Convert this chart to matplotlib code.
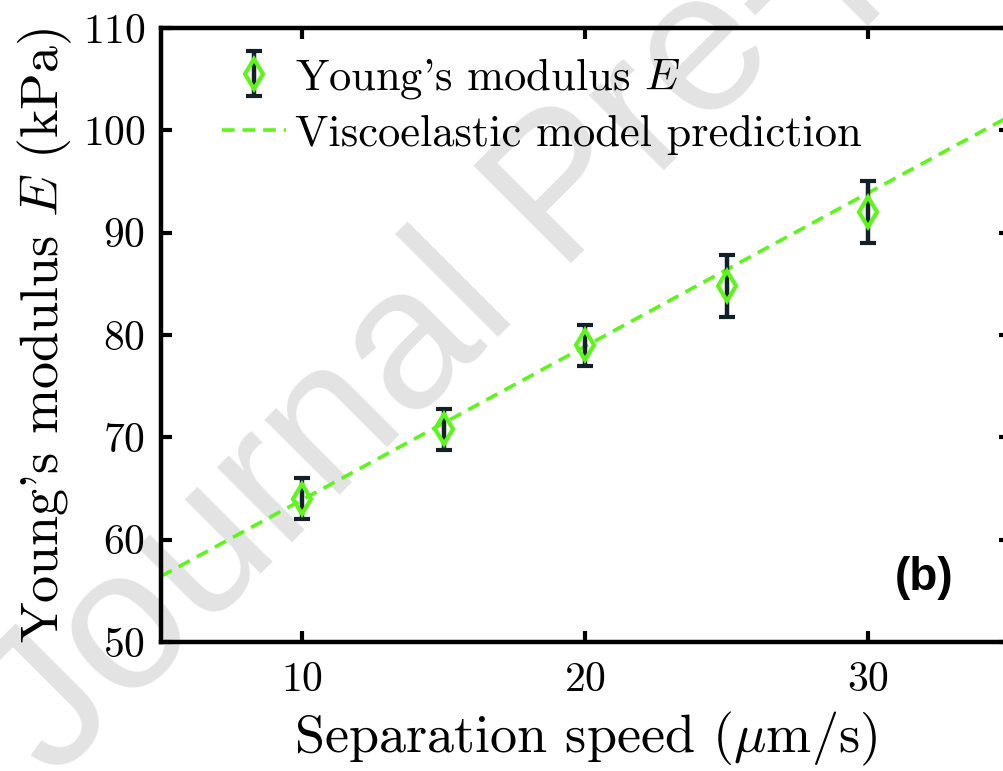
import numpy as np
import matplotlib
matplotlib.use('Agg')
import matplotlib.pyplot as plt

plt.rcParams['font.family'] = 'serif'
plt.rcParams['font.serif'] = ['cmr10']
plt.rcParams['mathtext.fontset'] = 'cm'
plt.rcParams['axes.formatter.use_mathtext'] = True
plt.rcParams['axes.unicode_minus'] = False

# measured data
speed = [10, 15, 20, 25, 30]
modulus = [64.0, 70.8, 79.0, 84.8, 92.0]
modulus_err = [2.0, 2.0, 2.0, 3.0, 3.0]

# model prediction (straight line across the plotted range)
model_speed = [5, 35]
model_E = [56.4, 101.4]

green = '#5ef51a'
dark = '#13202a'

fig = plt.figure(figsize=(10.04, 7.71), dpi=100)
# right spine sits just outside the picture, like in the original
ax = fig.add_axes([0.160, 0.1673, 0.846, 0.7964])
ax.set_facecolor('none')

# watermark
fig.text(0.565, 0.748, 'Journal Pre-proof', fontsize=145, color='#e3e3e3',
         family='Liberation Sans', rotation=45, ha='center', va='center',
         zorder=-5)

ax.plot(model_speed, model_E, '--', color=green, lw=2.6, dashes=(3.5, 2.2),
        label='Viscoelastic model prediction', zorder=2)
ax.errorbar(speed, modulus, yerr=modulus_err, fmt='d', color=dark,
            ecolor=dark, elinewidth=3.2, capsize=5.5, capthick=3.2,
            mfc='none', mec=green, mew=3, ms=15,
            label="Young's modulus $E$", zorder=3)

ax.set_xlim(5, 35)
ax.set_ylim(50, 110)
ax.set_xticks([10, 20, 30])
ax.set_yticks(np.arange(50, 111, 10))
ax.tick_params(direction='in', length=8, width=3, labelsize=30,
               top=True, right=True)
ax.tick_params(axis='x', pad=14)
ax.tick_params(axis='y', pad=11)
for s in ax.spines.values():
    s.set_linewidth(3.2)

ax.set_xlabel(r'Separation speed ($\mu$m/s)', fontsize=39, labelpad=8)
ax.set_ylabel(r"Young's modulus $E$ (kPa)", fontsize=39, labelpad=6)

h, l = ax.get_legend_handles_labels()
ax.legend(h[::-1], l[::-1], loc='upper left', frameon=False, fontsize=32,
          bbox_to_anchor=(0.072, 0.955), borderaxespad=0, borderpad=0,
          handlelength=1.45, handletextpad=0.2, labelspacing=0.32)

ax.text(0.899, 0.104, '(b)', transform=ax.transAxes, fontsize=33,
        family='Liberation Sans', fontweight='bold', ha='center', va='center')

fig.savefig('out.png', dpi=100)
